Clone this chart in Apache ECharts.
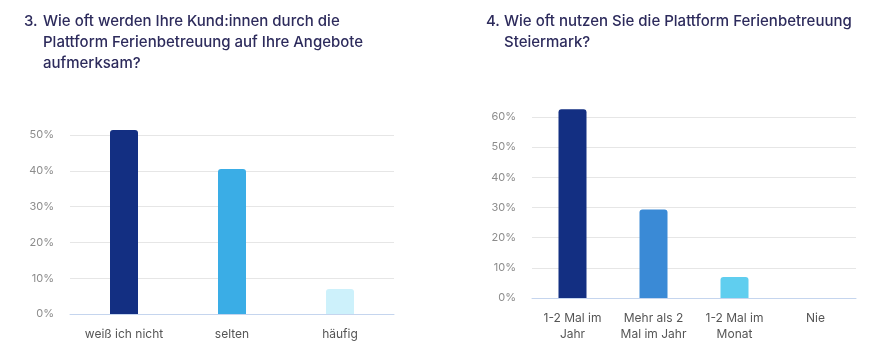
<!DOCTYPE html>
<html>
<head>
<meta charset="utf-8">
<script src="https://cdn.jsdelivr.net/npm/echarts@6/dist/echarts.min.js"></script>
<style>
  html, body { margin: 0; padding: 0; background: #fff; }
  #chart { width: 888px; height: 353px; }
</style>
</head>
<body>
<div id="chart"></div>
<script>
// Frage 3
var cats3 = ['weiß ich nicht', 'selten', 'häufig'];
var vals3 = [51.4, 40.5, 7.0];
var colors3 = ['#132f82', '#3aade6', '#cdf1fb'];

// Frage 4
var cats4 = ['1-2 Mal im\nJahr', 'Mehr als 2\nMal im Jahr', '1-2 Mal im\nMonat', 'Nie'];
var vals4 = [62.6, 29.3, 7.0, 0];
var colors4 = ['#132f82', '#3a8ad6', '#60ceef', '#60ceef'];

var FONT = 'Inter, "Noto Sans", sans-serif';
var titleStyle = { fontFamily: FONT, fontSize: 15, fontWeight: 500, color: '#2d2b5c', lineHeight: 21 };

function barData(vals, colors) {
    return vals.map(function (v, i) {
        return { value: v, itemStyle: { color: colors[i] } };
    });
}

function yAxis(idx, max) {
    return {
        type: 'value', gridIndex: idx, min: 0, max: max, interval: 10,
        axisLine: { show: false }, axisTick: { show: false },
        axisLabel: { formatter: '{value}%', color: '#8c8c8c', fontSize: 11, fontFamily: FONT, margin: 16 },
        splitLine: { lineStyle: { color: '#e6e6e6' } }
    };
}

function xAxis(idx, data) {
    return {
        type: 'category', gridIndex: idx, data: data,
        axisLine: { lineStyle: { color: '#c5d5ee' } }, axisTick: { show: false },
        axisLabel: { color: '#555', fontSize: 12, fontFamily: FONT, margin: 12, lineHeight: 16, interval: 0 }
    };
}

var chart = echarts.init(document.getElementById('chart'));
chart.setOption({
    animation: false,
    title: [
        { text: '3.', left: 24, top: 11, padding: 0, textStyle: titleStyle },
        { text: 'Wie oft werden Ihre Kund:innen durch die\nPlattform Ferienbetreuung auf Ihre Angebote\naufmerksam?', left: 43, top: 11, padding: 0, textStyle: titleStyle },
        { text: '4.', left: 486, top: 11, padding: 0, textStyle: titleStyle },
        { text: 'Wie oft nutzen Sie die Plattform Ferienbetreuung\nSteiermark?', left: 504, top: 11, padding: 0, textStyle: titleStyle }
    ],
    grid: [
        { left: 70, width: 324, top: 135, height: 179 },
        { left: 532, width: 324, top: 117, height: 181 }
    ],
    xAxis: [xAxis(0, cats3), xAxis(1, cats4)],
    yAxis: [yAxis(0, 50), yAxis(1, 60)],
    series: [
        { type: 'bar', xAxisIndex: 0, yAxisIndex: 0, barWidth: 28, clip: false,
          itemStyle: { borderRadius: [3, 3, 0, 0] }, data: barData(vals3, colors3) },
        { type: 'bar', xAxisIndex: 1, yAxisIndex: 1, barWidth: 28, clip: false,
          itemStyle: { borderRadius: [3, 3, 0, 0] }, data: barData(vals4, colors4) }
    ]
});
</script>
</body>
</html>
